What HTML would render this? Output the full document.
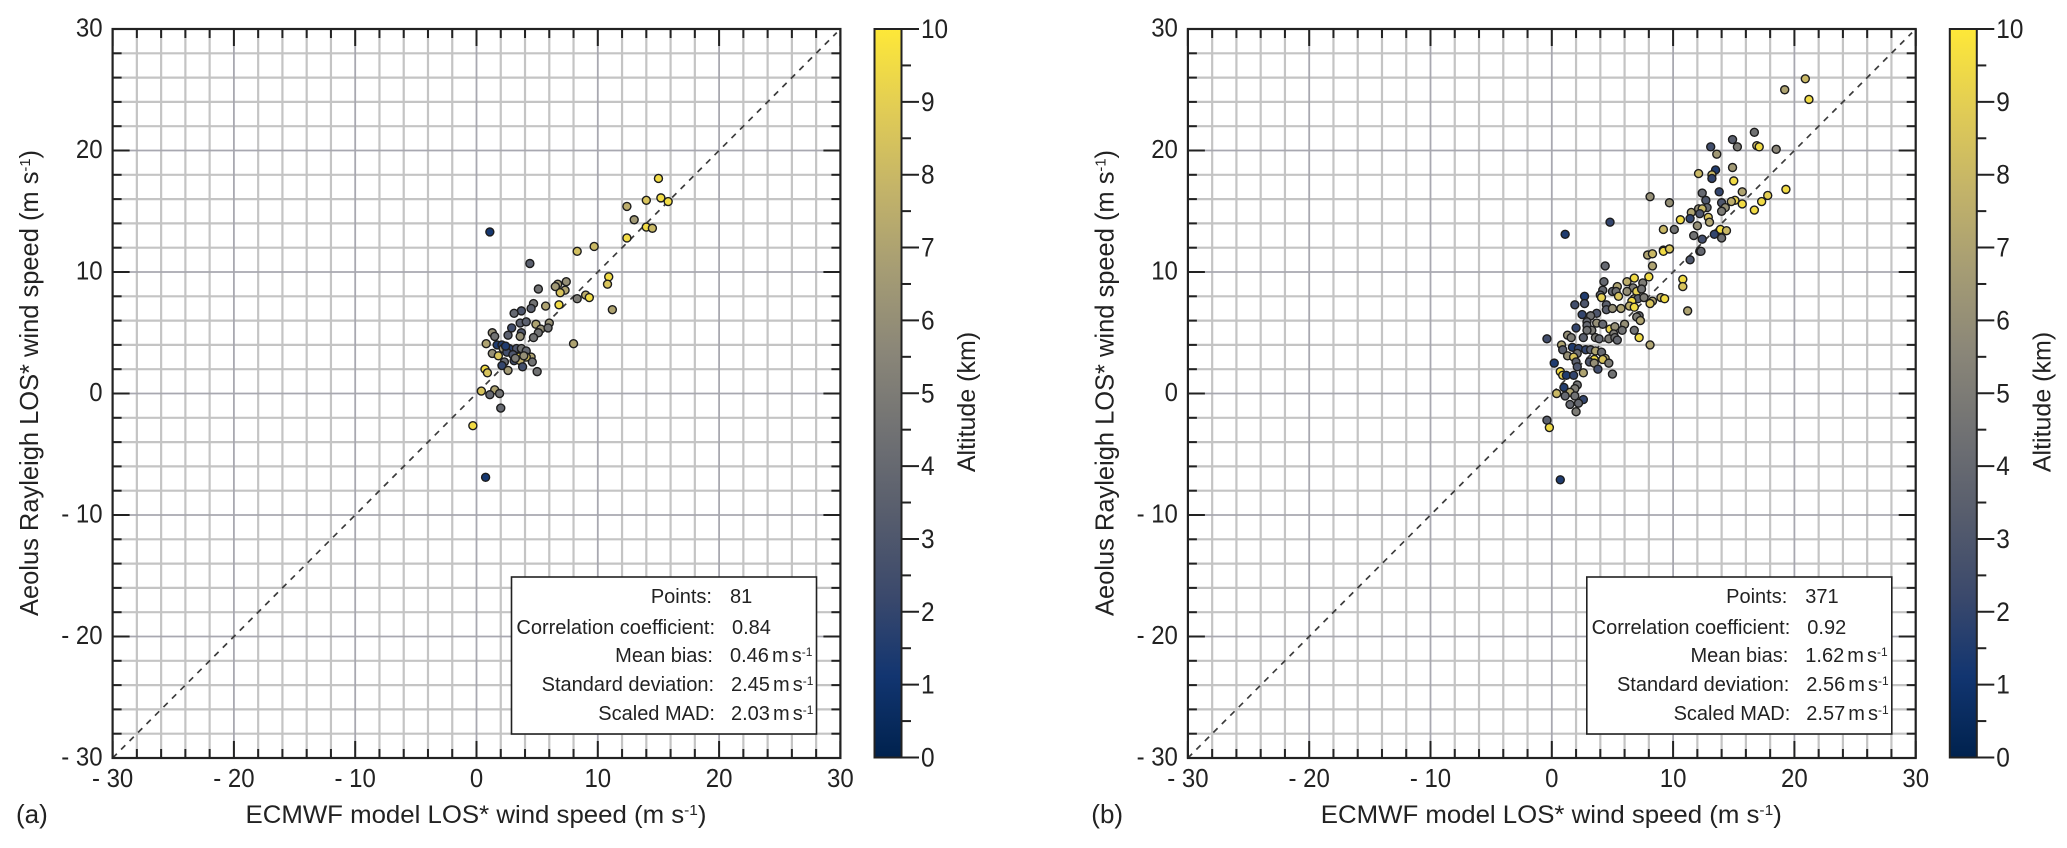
<!DOCTYPE html>
<html lang="en">
<head>
<meta charset="utf-8">
<title>Aeolus Rayleigh vs ECMWF wind speed</title>
<style>
html,body{margin:0;padding:0;background:#fff;width:2067px;height:848px;overflow:hidden}
svg{display:block}
text{font-family:"Liberation Sans",sans-serif;fill:#222}
.stat{font-size:20px}
.val{font-size:20px;word-spacing:-2.5px}
.sup{font-size:12px}
</style>
</head>
<body>
<svg id="figure" xmlns="http://www.w3.org/2000/svg" width="2067" height="848" viewBox="0 0 2067 848">
<defs>
<linearGradient id="cividis" x1="0" y1="1" x2="0" y2="0">
<stop offset="0" stop-color="#00224e"/><stop offset="0.111" stop-color="#123570"/><stop offset="0.222" stop-color="#3b496c"/><stop offset="0.333" stop-color="#575d6d"/><stop offset="0.444" stop-color="#707173"/><stop offset="0.556" stop-color="#8a8678"/><stop offset="0.667" stop-color="#a59c74"/><stop offset="0.778" stop-color="#c3b369"/><stop offset="0.889" stop-color="#e1cc55"/><stop offset="1" stop-color="#fee838"/>
</linearGradient>
</defs>

<g id="panel-a">
  <g id="plot-a"></g>
  <g>
    <rect x="511.5" y="577" width="305" height="157" fill="#fff" stroke="#222" stroke-width="1.6"/>
    <text class="stat" x="712" y="603" text-anchor="end">Points:</text>
    <text class="val" x="730" y="603">81</text>
    <text class="stat" x="715" y="634" text-anchor="end">Correlation coefficient:</text>
    <text class="val" x="732" y="634">0.84</text>
    <text class="stat" x="713" y="662" text-anchor="end">Mean bias:</text>
    <text class="val" x="730" y="662">0.46 m s<tspan class="sup" dy="-6">-1</tspan></text>
    <text class="stat" x="714" y="691" text-anchor="end">Standard deviation:</text>
    <text class="val" x="731" y="691">2.45 m s<tspan class="sup" dy="-6">-1</tspan></text>
    <text class="stat" x="715" y="720" text-anchor="end">Scaled MAD:</text>
    <text class="val" x="731" y="720">2.03 m s<tspan class="sup" dy="-6">-1</tspan></text>
  </g>
  <text transform="translate(38,383) rotate(-90)" text-anchor="middle" font-size="26" textLength="466" lengthAdjust="spacingAndGlyphs">Aeolus Rayleigh LOS* wind speed (m s<tspan font-size="15" dy="-8">-1</tspan><tspan dy="8">)</tspan></text>
  <text x="476" y="823" text-anchor="middle" font-size="25" textLength="461" lengthAdjust="spacingAndGlyphs">ECMWF model LOS* wind speed (m s<tspan font-size="15" dy="-8">-1</tspan><tspan dy="8">)</tspan></text>
  <text x="16" y="823" font-size="26">(a)</text>
  <text transform="translate(975,402) rotate(-90)" text-anchor="middle" font-size="25">Altitude (km)</text>
</g>

<g id="panel-b" transform="translate(1075.3,0)">
  <g id="plot-b"></g>
  <g>
    <rect x="511.5" y="577" width="305" height="157" fill="#fff" stroke="#222" stroke-width="1.6"/>
    <text class="stat" x="712" y="603" text-anchor="end">Points:</text>
    <text class="val" x="730" y="603">371</text>
    <text class="stat" x="715" y="634" text-anchor="end">Correlation coefficient:</text>
    <text class="val" x="732" y="634">0.92</text>
    <text class="stat" x="713" y="662" text-anchor="end">Mean bias:</text>
    <text class="val" x="730" y="662">1.62 m s<tspan class="sup" dy="-6">-1</tspan></text>
    <text class="stat" x="714" y="691" text-anchor="end">Standard deviation:</text>
    <text class="val" x="731" y="691">2.56 m s<tspan class="sup" dy="-6">-1</tspan></text>
    <text class="stat" x="715" y="720" text-anchor="end">Scaled MAD:</text>
    <text class="val" x="731" y="720">2.57 m s<tspan class="sup" dy="-6">-1</tspan></text>
  </g>
  <text transform="translate(38,383) rotate(-90)" text-anchor="middle" font-size="26" textLength="466" lengthAdjust="spacingAndGlyphs">Aeolus Rayleigh LOS* wind speed (m s<tspan font-size="15" dy="-8">-1</tspan><tspan dy="8">)</tspan></text>
  <text x="476" y="823" text-anchor="middle" font-size="25" textLength="461" lengthAdjust="spacingAndGlyphs">ECMWF model LOS* wind speed (m s<tspan font-size="15" dy="-8">-1</tspan><tspan dy="8">)</tspan></text>
  <text x="16" y="823" font-size="26">(b)</text>
  <text transform="translate(975,402) rotate(-90)" text-anchor="middle" font-size="25">Altitude (km)</text>
</g>
</svg>

<script>
const axisTicks = [-30, -20, -10, 0, 10, 20, 30];
const minorTicks = [-28, -26, -24, -22, -18, -16, -14, -12, -8, -6, -4, -2, 2, 4, 6, 8, 12, 14, 16, 18, 22, 24, 26, 28];
const colorbarTicks = [0, 1, 2, 3, 4, 5, 6, 7, 8, 9, 10];
const colorbarMinorTicks = [0.5, 1.5, 2.5, 3.5, 4.5, 5.5, 6.5, 7.5, 8.5, 9.5];

const aX = [15.0,14.0,15.2,15.8,12.4,13.0,14.0,14.5,12.4,1.1,9.7,8.3,4.4,10.9,10.8,7.4,6.7,6.5,5.1,7.3,6.9,9.0,9.3,8.3,4.7,5.7,6.8,4.5,3.7,3.1,11.2,3.6,4.1,4.9,6.0,2.9,5.3,5.9,5.1,1.3,1.5,2.6,3.7,3.6,4.7,8.0,0.8,1.7,2.1,2.7,3.3,2.2,3.7,4.1,2.5,1.3,1.8,4.5,3.5,4.1,3.1,4.6,3.6,2.3,2.1,3.8,2.6,5.0,0.7,0.9,0.4,1.5,1.9,1.1,2.0,-0.3,0.75,3.0,2.4,3.9,3.2];
const aY = [17.7,15.9,16.1,15.8,15.4,14.3,13.7,13.6,12.8,13.3,12.1,11.7,10.7,9.6,9.0,9.2,9.0,8.8,8.6,8.5,8.3,8.1,7.9,7.8,7.4,7.2,7.3,7.0,6.8,6.6,6.9,5.8,5.9,5.7,5.8,5.4,5.3,5.4,5.0,5.0,4.7,4.8,5.0,4.7,4.6,4.1,4.1,4.0,4.0,3.7,3.7,3.7,3.7,3.5,3.4,3.3,3.1,3.0,3.0,3.0,2.7,2.6,2.7,2.6,2.3,2.2,1.9,1.8,2.0,1.7,0.2,0.3,0.0,-0.1,-1.2,-2.65,-6.9,3.2,3.9,3.1,2.9];
const aAlt = [9.5,8.5,9.5,9.5,7.5,6.5,9.5,8,9.5,1.2,8,8.3,3.5,9.5,8.5,6,6.5,6.5,4.5,7,8.5,7.5,9.5,5,4.5,7,9.5,3.5,3,4,7,3.5,3.5,7,6,2.5,6,4.5,4.5,6,4.5,3.5,3,6,4.5,7,7,1.5,1.5,1.8,3,6,4.5,4,2.5,6,8.5,7,9.5,8.5,2.5,4.5,7.5,4,2,2.5,6.5,4.5,9.5,8.5,8.5,7,4.5,4,4,9.5,1.2,3,1.5,6,5];

const bX = [20.9,19.2,21.2,16.7,14.9,15.3,16.9,17.1,18.5,13.1,13.6,13.5,14.9,12.1,13.2,13.2,15.0,19.3,13.8,15.7,17.8,12.4,8.1,12.7,17.3,9.7,15.1,14.8,14.0,15.7,14.3,12.8,12.1,11.5,14.0,16.7,12.4,12.2,12.9,11.4,10.6,13.0,12.0,9.2,10.1,13.9,14.4,13.4,11.7,12.4,14.0,9.2,9.7,12.2,4.8,1.1,7.9,8.3,9.2,9.7,11.4,12.3,8.3,4.4,10.8,10.8,8.0,6.8,6.2,4.3,5.4,7.5,6.7,4.2,5.0,5.3,6.2,7.0,7.4,4.0,4.1,5.5,2.7,6.8,7.1,7.6,6.6,8.3,9.0,9.3,8.1,2.7,1.9,4.5,6.4,6.8,4.5,5.0,5.7,11.2,2.5,3.7,3.2,7.2,7.0,7.3,2.9,3.7,4.2,6.0,2.9,2.0,4.8,5.2,3.3,2.9,5.8,6.8,5.1,1.3,3.6,2.6,1.6,3.9,-0.4,4.7,5.2,5.4,7.2,8.1,0.8,1.7,2.2,0.9,2.8,3.2,3.6,2.1,4.1,1.3,1.8,4.4,3.5,4.2,2.0,3.1,4.7,0.2,2.1,3.5,3.8,2.6,5.0,0.7,0.9,1.2,1.8,2.1,1.0,1.9,0.4,1.5,1.1,1.9,2.6,-0.4,-0.2,2.0,0.7,2.2,1.5];
const bY = [25.9,25.0,24.2,21.5,20.9,20.3,20.4,20.3,20.1,20.3,19.7,18.4,18.6,18.1,18.0,17.7,17.5,16.8,16.6,16.6,16.3,16.5,16.2,15.9,15.8,15.7,15.9,15.8,15.7,15.6,15.3,15.3,15.2,14.9,15.0,15.1,15.2,14.8,14.5,14.4,14.3,14.1,13.8,13.5,13.5,13.5,13.4,13.1,13.0,12.7,12.8,11.8,11.9,11.7,14.1,13.1,11.4,11.5,11.7,11.9,11.0,11.7,10.5,10.5,9.4,8.8,9.6,9.5,9.2,9.2,8.8,9.1,8.7,8.5,8.4,8.4,8.4,8.4,8.6,8.1,7.9,8.0,8.0,7.8,7.8,7.9,7.6,7.6,7.9,7.8,7.4,7.4,7.3,7.3,7.2,7.1,6.9,7.0,7.0,6.8,6.5,6.6,6.4,6.4,6.3,6.0,5.9,5.8,5.7,5.7,5.6,5.4,5.3,5.5,5.2,5.2,5.2,5.2,4.9,4.8,4.6,4.6,4.6,4.5,4.5,4.5,4.6,4.4,4.6,4.0,4.0,3.8,3.7,3.6,3.6,3.6,3.5,3.3,3.4,3.1,3.0,2.9,2.8,2.8,2.6,2.6,2.5,2.5,2.2,2.5,2.0,1.7,1.6,1.8,1.5,1.5,1.5,0.7,0.5,0.4,0.0,0.1,-0.2,-0.2,-0.5,-2.2,-2.8,-1.5,-7.1,-0.8,-0.9];
const bAlt = [8,7,9.5,4.5,3.5,5,8,9.5,5.5,2.5,6.5,1.5,6.5,8,8,2,9.5,9.5,2,7,9,4,6,3,9.5,6,9,7.5,3,9.5,6,4,6,7,5,9.5,8,3,8.5,2,9.5,7,6,8,4.5,9.5,8,2,4.5,2.5,4.5,9.5,8,3,2,1.5,7,8,9.5,8.5,3,4,7,4,9.5,8.5,9.5,9.5,7.5,4,7,5,5,4,4,4.5,6,9,4.5,4,9,8.5,1.5,6.5,3.5,5,9.5,7,7.5,9.5,8.5,3,2.5,3.5,7.5,9.5,3.5,6,7,7,2,3,4.5,4,5,7,4,6,4,6,4,2,9,6,5,4.5,4.5,4.5,5,6,5,3.5,5,4,2.5,5,4.5,4,9.5,7,7,1.5,2,3.5,2,3.5,7,4.5,4,6,8.5,7,9.5,8.5,3.5,3,5,1.5,3,6,2.5,7,4.5,9.5,9,1.5,2,4.5,1.5,5,8,7,4,4.5,2,3.5,9.5,5,1.5,4,4];

const SVG_NS = 'http://www.w3.org/2000/svg';
const cividisStops = ['#00224e','#123570','#3b496c','#575d6d','#707173','#8a8678','#a59c74','#c3b369','#e1cc55','#fee838'];

function xScale(v) { return 476.5 + v * 12.13; }
function yScale(v) { return 393.5 - v * 12.15; }
function barScale(v) { return 757.5 - v * 72.85; }

function hexToRgb(h) {
  return [parseInt(h.slice(1, 3), 16), parseInt(h.slice(3, 5), 16), parseInt(h.slice(5, 7), 16)];
}
function altColor(alt) {
  const t = Math.max(0, Math.min(1, alt / 10)) * (cividisStops.length - 1);
  const i = Math.min(cividisStops.length - 2, Math.floor(t));
  const f = t - i;
  const a = hexToRgb(cividisStops[i]);
  const b = hexToRgb(cividisStops[i + 1]);
  const c = a.map(function (va, k) { return Math.round(va + (b[k] - va) * f); });
  return 'rgb(' + c.join(',') + ')';
}
function fmt(v) { return v < 0 ? '- ' + Math.abs(v) : String(v); }

function line(parent, x1, y1, x2, y2, color, width) {
  const el = document.createElementNS(SVG_NS, 'line');
  el.setAttribute('x1', x1);
  el.setAttribute('y1', y1);
  el.setAttribute('x2', x2);
  el.setAttribute('y2', y2);
  el.setAttribute('stroke', color);
  el.setAttribute('stroke-width', width);
  parent.appendChild(el);
  return el;
}
function label(parent, x, y, anchor, size, str, squeeze) {
  const el = document.createElementNS(SVG_NS, 'text');
  el.setAttribute('x', x);
  el.setAttribute('y', y);
  el.setAttribute('text-anchor', anchor);
  el.setAttribute('font-size', size);
  el.textContent = str;
  parent.appendChild(el);
  el.setAttribute('textLength', (el.getComputedTextLength() * squeeze).toFixed(1));
  el.setAttribute('lengthAdjust', 'spacingAndGlyphs');
  return el;
}

function drawPanel(root, xs, ys, alts) {
  const L = xScale(-30), R = xScale(30), T = yScale(30), B = yScale(-30);
  const TICK = '#222';

  minorTicks.forEach(function (v) {
    const gv = line(root, xScale(v), T, xScale(v), B, '#c4c4c4', 2.2);
    
    
    const gh = line(root, L, yScale(v), R, yScale(v), '#c4c4c4', 2.2);
    
    
  });
  axisTicks.forEach(function (v) {
    const gv = line(root, xScale(v), T, xScale(v), B, '#a8a8b0', 1.8);
    
    
    const gh = line(root, L, yScale(v), R, yScale(v), '#a8a8b0', 1.8);
    
    
  });

  const diag = line(root, xScale(-30), yScale(-30), xScale(29.7), yScale(29.7), '#3c3c3c', 1.7);
  diag.setAttribute('stroke-dasharray', '6 6');
  
  

  function ticks(list, len, name) {
    list.forEach(function (v) {
      const a = line(root, xScale(v), B, xScale(v), B - len, TICK, 2);
      
      
      const b = line(root, xScale(v), T, xScale(v), T + len, TICK, 2);
      
      
      const c = line(root, L, yScale(v), L + len, yScale(v), TICK, 2);
      
      
      const d = line(root, R, yScale(v), R - len, yScale(v), TICK, 2);
      
      
    });
  }
  ticks(minorTicks, 9, 'minor-tick');
  ticks(axisTicks, 17, 'major-tick');

  const frame = document.createElementNS(SVG_NS, 'rect');
  frame.setAttribute('x', L);
  frame.setAttribute('y', T);
  frame.setAttribute('width', R - L);
  frame.setAttribute('height', B - T);
  frame.setAttribute('fill', 'none');
  frame.setAttribute('stroke', '#222');
  frame.setAttribute('stroke-width', 2.2);
  
  
  root.appendChild(frame);

  axisTicks.forEach(function (v) {
    const lx = label(root, xScale(v), 787, 'middle', 25.5, fmt(v), 0.94);
    
    
    const ly = label(root, L - 10, yScale(v) + 7.5, 'end', 25.5, fmt(v), 0.94);
    
    
  });

  xs.forEach(function (xv, i) {
    const c = document.createElementNS(SVG_NS, 'circle');
    c.setAttribute('cx', xScale(xv));
    c.setAttribute('cy', yScale(ys[i]));
    c.setAttribute('r', 4);
    c.setAttribute('fill', altColor(alts[i]));
    c.setAttribute('stroke', '#1c1c1c');
    c.setAttribute('stroke-width', 1.4);
    
    
    root.appendChild(c);
  });

  const bar = document.createElementNS(SVG_NS, 'rect');
  bar.setAttribute('x', 874.5);
  bar.setAttribute('y', barScale(10));
  bar.setAttribute('width', 27);
  bar.setAttribute('height', barScale(0) - barScale(10));
  bar.setAttribute('fill', 'url(#cividis)');
  bar.setAttribute('stroke', '#222');
  bar.setAttribute('stroke-width', 2);
  
  
  root.appendChild(bar);

  colorbarMinorTicks.forEach(function (v) {
    const t = line(root, 901.5, barScale(v), 911, barScale(v), TICK, 2);
    
    
  });
  colorbarTicks.forEach(function (v) {
    const t = line(root, 901.5, barScale(v), 919, barScale(v), TICK, 2);
    
    
    const l = label(root, 921, barScale(v) + 9, 'start', 26.5, String(v), 0.92);
    
    
  });
}

drawPanel(document.getElementById('plot-a'), aX, aY, aAlt);
drawPanel(document.getElementById('plot-b'), bX, bY, bAlt);
</script>
</body>
</html>
